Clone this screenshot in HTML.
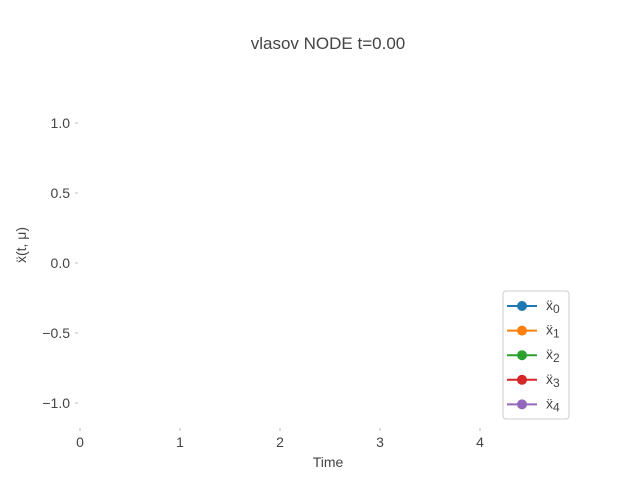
<!DOCTYPE html>
<html><head><meta charset="utf-8">
<style>
body{margin:0;background:#fff;}
svg text{font-family:"Liberation Sans","DejaVu Sans",sans-serif;fill:#444;}
</style></head>
<body>
<svg id="chart" width="640" height="480">
<text x="328" y="49" font-size="17" text-anchor="middle">vlasov NODE t=0.00</text>
<g id="yticks"></g><g id="xticks"></g><g id="series"></g>
<text x="328" y="467" font-size="14" text-anchor="middle">Time</text>
<text transform="translate(26,245) rotate(-90)" font-size="14" text-anchor="middle">ẍ(t, μ)</text>
<g id="legend"></g>
</svg>
<script>
const xTicks=[0,1,2,3,4];
const yTicks=[1.0,0.5,0.0,-0.5,-1.0];
const yTickLabels=["1.0","0.5","0.0","−0.5","−1.0"];
const seriesNames=["0","1","2","3","4"];
const seriesColors=["#1f77b4","#ff7f0e","#2ca02c","#d62728","#9467bd"];
const seriesTimes=[];
const series0=[];const series1=[];const series2=[];const series3=[];const series4=[];
const allSeries=[series0,series1,series2,series3,series4];
const NS="http://www.w3.org/2000/svg";
const xs=v=>80+v*100, ys=v=>263-v*140;
function mk(t,a,p){const e=document.createElementNS(NS,t);for(const k in a)e.setAttribute(k,a[k]);p.appendChild(e);return e;}
const yg=document.getElementById('yticks');
yTicks.forEach((v,i)=>{
 const l=mk('line',{x1:75,x2:78,y1:ys(v),y2:ys(v),stroke:'#bbb'},yg);
 
 
 const t=mk('text',{x:70,y:ys(v)+5,'font-size':14,'text-anchor':'end'},yg);t.textContent=yTickLabels[i];
 
 
});
const xg=document.getElementById('xticks');
xTicks.forEach(v=>{
 const l=mk('line',{x1:xs(v),x2:xs(v),y1:428,y2:431,stroke:'#bbb'},xg);
 
 
 const t=mk('text',{x:xs(v),y:447,'font-size':14,'text-anchor':'middle'},xg);t.textContent=String(v);
 
 
});
const sg=document.getElementById('series');
allSeries.forEach((s,i)=>{
 if(!s.length)return;
 const p=mk('polyline',{fill:'none',stroke:seriesColors[i],'stroke-width':2,points:s.map((v,j)=>xs(seriesTimes[j])+','+ys(v)).join(' ')},sg);
 
 
});
const lg=document.getElementById('legend');
const box=mk('rect',{x:503,y:291,width:66,height:128,rx:3,fill:'#fff',stroke:'#ccc'},lg);


seriesNames.forEach((n,i)=>{
 const y=306+i*24.6;
 const g=mk('g',{},lg);
 
 
 mk('line',{x1:507,x2:537,y1:y,y2:y,stroke:seriesColors[i],'stroke-width':2},g);
 mk('circle',{cx:522,cy:y,r:5,fill:seriesColors[i]},g);
 const t=mk('text',{x:546,y:y+4,'font-size':14},g);
 t.textContent='ẍ';
 const sub=mk('tspan',{'font-size':12,dy:3},t);
 sub.textContent=n;
});
</script>
</body></html>
